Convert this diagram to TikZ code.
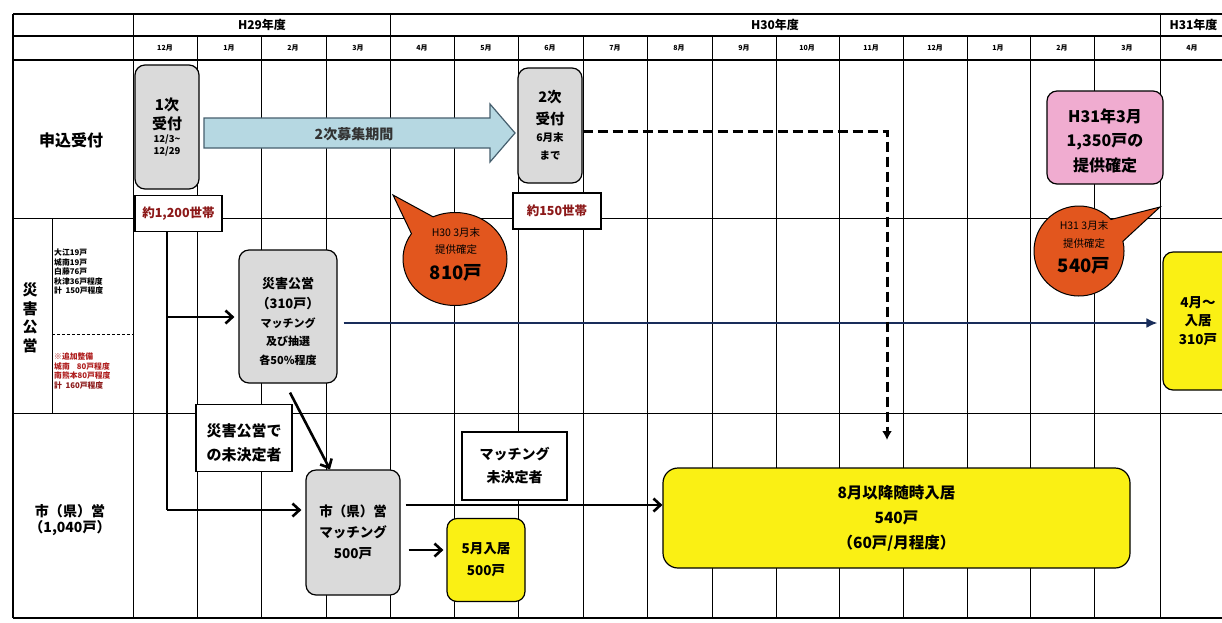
\documentclass[tikz,border=0pt]{standalone}
\usepackage{fontspec}
\setmainfont{Noto Sans CJK JP}
\usetikzlibrary{shapes.callouts,arrows.meta}
\definecolor{gboxfill}{RGB}{218,218,218}
\definecolor{yel}{RGB}{250,240,20}
\definecolor{pinkf}{RGB}{240,172,208}
\definecolor{orng}{RGB}{226,86,30}
\definecolor{arrbl}{RGB}{182,216,226}
\definecolor{arrbd}{RGB}{70,95,110}
\definecolor{navy}{RGB}{25,45,90}
\definecolor{dred}{RGB}{140,25,25}
\definecolor{rtext}{RGB}{175,30,30}
\newcommand\fs[2]{\fontsize{#1}{#2}\selectfont}
\begin{document}
\begin{tikzpicture}[x=1pt,y=-1pt,
  grid/.style={line width=1pt},
  frame/.style={line width=1.8pt},
  rbox/.style={draw, line width=1.2pt, rounded corners=10pt, inner sep=0pt, align=center},
  grayb/.style={rbox, fill=gboxfill},
  yelb/.style={rbox, fill=yel},
  sbox/.style={draw, line width=1.2pt, fill=white, inner sep=0pt, align=center},
  bub/.style={ellipse callout, draw, line width=1pt, fill=orng, inner sep=0pt, callout pointer arc=32},
  arr/.style={line width=2.6pt, -{Straight Barb[length=7pt,width=13pt]}},
  hd/.style={font=\fs{12}{14}\bfseries},
  mo/.style={font=\fs{7}{8}\bfseries},
  lbl/.style={inner sep=0pt, align=center},
]
\useasboundingbox (0,0) rectangle (1222,622);
\clip (0,0) rectangle (1222,622);
\fill[white] (0,0) rectangle (1222,622);

% ---------- grid ----------
\foreach \x in {197,261,326,454,518,583,647,712,776,839,903,967,1030,1094}
  \draw[grid] (\x,36) -- (\x,618);
\foreach \x in {133,390,1160}
  \draw[grid] (\x,14) -- (\x,618);
\draw[grid] (52,218) -- (52,413);
\draw[grid] (13,218) -- (1240,218);
\draw[grid] (13,413) -- (1240,413);
\draw[frame] (13,14) -- (1240,14);
\draw[frame] (13,36) -- (1240,36);
\draw[frame] (13,60) -- (1240,60);
\draw[frame] (13,618) -- (1240,618);
\draw[frame] (13,14) -- (13,618);
\draw[grid, dash pattern=on 3pt off 2pt] (52,334) -- (133,334);

% ---------- header ----------
\node[hd] (h29) at (262,25) {H29年度};
\node[hd] (h30) at (775,25) {H30年度};
\node[hd, anchor=west] (h31) at (1166,25) {H31年度};
\foreach \x/\m/\n in {165/12月/a,229/1月/b,293/2月/c,358/3月/d,422/4月/e,486/5月/f,550/6月/g,615/7月/h,679/8月/i,744/9月/j,807/10月/k,871/11月/l,935/12月/m,998/1月/n,1062/2月/o,1127/3月/p,1192/4月/q}
  \node[mo] (mo\n) at (\x,48) {\m};

% ---------- row labels ----------
\node[lbl, font=\fs{16}{18}\bfseries] (lab1) at (71,140) {申込受付};
\node[lbl, font=\fs{15}{18.5}\bfseries] (lab2) at (30,318) {災\\害\\公\\営};
\node[lbl, font=\fs{14}{16}\bfseries] (lab3) at (70,520) {市（県）営\\（1,040戸）};
\node[lbl, anchor=west, align=left, font=\fs{7.8}{9.5}\bfseries] (list1) at (54,272)
  {大江19戸\\城南19戸\\白藤76戸\\秋津36戸程度\\計\ \ 150戸程度};
\node[lbl, anchor=west, align=left, font=\fs{7.8}{9.5}\bfseries, text=rtext] (list2) at (54,371)
  {※追加整備\\城南\ \ \ \ 80戸程度\\南熊本80戸程度\\\textcolor{dred}{計\ \ 160戸程度}};

% ---------- 申込受付 row ----------
\node[grayb, minimum width=64pt, minimum height=124pt, font=\fs{15}{19}\bfseries] (r1) at (167,127)
  {1次\\受付\\[-6pt]{\fs{9.5}{10}\bfseries 12/3\textasciitilde}\\[-7pt]{\fs{9.5}{10}\bfseries 12/29}};
\node[sbox, minimum width=87pt, minimum height=36pt, font=\fs{12.5}{14}\bfseries, text=dred] (a1200) at (178.5,213.5) {約1,200世帯};

\draw[line width=1.2pt, draw=arrbd, fill=arrbl] (204,118) -- (490,118) -- (490,104) -- (515,133)
  -- (490,162) -- (490,148) -- (204,148) -- cycle;
\node[lbl, font=\fs{14}{16}\bfseries, text=black!80] (bosyu) at (354,134) {2次募集期間};

\node[grayb, minimum width=64pt, minimum height=115pt, font=\fs{14.5}{22}\bfseries] (r2) at (550,125.5)
  {2次\\受付\\[-5pt]{\fs{10.5}{10}\bfseries 6月末}\\[-4pt]{\fs{10.5}{10}\bfseries まで}};
\node[sbox, minimum width=88pt, minimum height=36pt, font=\fs{12.5}{14}\bfseries, text=dred] (a150) at (557,211) {約150世帯};

\node[rbox, fill=pinkf, minimum width=116pt, minimum height=93pt, font=\fs{16}{24.5}\bfseries] (pink) at (1105,137.5)
  {\rule{0pt}{20pt}H31年3月\\1,350戸の\\提供確定};

% ---------- bubbles ----------
\node[bub, minimum width=104pt, minimum height=93pt, callout absolute pointer={(393,195)}] (bub1) at (455,259) {};
\node[lbl, font=\fs{10.5}{17}] (bub1t) at (456,255)
  {H30 3月末\\提供確定\\[9pt]{\fs{18.5}{20}\bfseries 810戸}};
\node[bub, minimum width=90pt, minimum height=90pt, callout absolute pointer={(1160,207)}] (bub2) at (1079,251) {};
\node[lbl, font=\fs{10.5}{18}] (bub2t) at (1084,248)
  {H31 3月末\\提供確定\\[7pt]{\fs{18.5}{20}\bfseries 540戸}};

% ---------- 災害公営 row ----------
\node[grayb, minimum width=98pt, minimum height=133pt, font=\fs{11}{18.5}\bfseries] (saigai) at (288,316.5)
  {\rule{0pt}{21pt}{\fs{13}{15}\bfseries 災害公営}\\[1.5pt]{\fs{13}{15}\bfseries （310戸）}\\マッチング\\及び抽選\\各50\%程度};
\node[yelb, minimum width=70pt, minimum height=138pt, font=\fs{13.5}{18.5}\bfseries] (apr) at (1198,321)
  {4月～\\入居\\310戸};
\node[sbox, minimum width=96pt, minimum height=67pt, font=\fs{15}{24}\bfseries] (mik) at (244,438)
  {\rule{0pt}{22pt}災害公営で\\の未決定者};

% ---------- 市(県)営 row ----------
\node[grayb, minimum width=94pt, minimum height=125pt, font=\fs{13.5}{21}\bfseries] (shi) at (353,532.5)
  {市（県）営\\マッチング\\500戸};
\node[sbox, minimum width=105pt, minimum height=68pt, font=\fs{14}{23}\bfseries] (mm) at (514.5,466)
  {マッチング\\未決定者};
\node[yelb, minimum width=78pt, minimum height=83pt, font=\fs{13.5}{22}\bfseries] (may) at (486,560)
  {5月入居\\500戸};
\node[yelb, rounded corners=15pt, minimum width=467pt, minimum height=100pt, font=\fs{15.5}{25}\bfseries] (m8) at (896.5,518)
  {8月以降随時入居\\540戸\\（60戸/月程度）};

% ---------- connectors ----------
\coordinate (v2) at (167,317);
\coordinate (v3) at (167,510);
\coordinate (dend) at (887,440);
\draw[line width=2.2pt] ([xshift=-11.5pt]a1200.south) -- (v3);
\draw[arr, shorten >=4pt] (v2) -- (saigai.west |- v2);
\draw[arr, shorten >=4pt] (v3) -- (shi.west |- v3);
\draw[line width=2pt, draw=navy, -{Latex[length=11pt,width=10pt]}, shorten <=6pt, shorten >=5pt]
  ([yshift=-6.5pt]saigai.east) -- ([yshift=-2pt]apr.west);
\draw[line width=2.6pt, -{Straight Barb[length=7pt,width=13pt]}]
  ([xshift=2pt,yshift=-9pt]saigai.south) -- ([xshift=-23pt]shi.north);
\draw[arr, shorten <=5pt] ([yshift=27.5pt]shi.east) -- ([yshift=13pt]m8.west);
\draw[arr, shorten <=8pt, shorten >=3pt] ([yshift=-17.5pt]shi.east) -- ([yshift=10pt]may.west);
\draw[line width=3pt, dash pattern=on 10pt off 5pt, -{Latex[length=9pt,width=10pt]}]
  ([yshift=-5.5pt]r2.east) -| (dend);
\end{tikzpicture}
\end{document}
